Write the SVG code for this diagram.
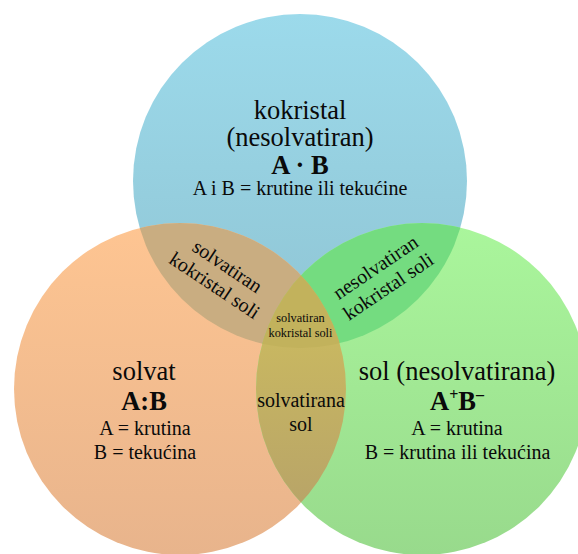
<svg xmlns="http://www.w3.org/2000/svg" width="578" height="554" viewBox="0 0 578 554">
<style>
.t{font-family:"Liberation Serif","Times New Roman",serif;fill:#0a0a0a;text-anchor:middle}
.big{font-size:26.5px}
.bold{font-size:26.5px;font-weight:bold}
.med{font-size:20px}
.sm{font-size:12.3px}
</style>
<defs>
<linearGradient id="gB" x1="0" y1="14" x2="0" y2="348" gradientUnits="userSpaceOnUse"><stop offset="0" stop-color="#9CDAEB"/><stop offset="1" stop-color="#8FC4D3"/></linearGradient>
<linearGradient id="gO" x1="0" y1="223" x2="0" y2="555" gradientUnits="userSpaceOnUse"><stop offset="0" stop-color="#FEC592"/><stop offset="1" stop-color="#E8B48C"/></linearGradient>
<linearGradient id="gG" x1="0" y1="223" x2="0" y2="555" gradientUnits="userSpaceOnUse"><stop offset="0" stop-color="#AAF69C"/><stop offset="1" stop-color="#98DA8C"/></linearGradient>
<linearGradient id="gOG" x1="0" y1="275" x2="0" y2="507" gradientUnits="userSpaceOnUse"><stop offset="0" stop-color="#CFBF5E"/><stop offset="1" stop-color="#B8A468"/></linearGradient>
<clipPath id="cB"><circle cx="300" cy="181" r="167"/></clipPath>
<clipPath id="cO"><circle cx="180" cy="389" r="166"/></clipPath>
</defs>
<g id="node-kokristal">
<circle cx="300" cy="181" r="167" fill="url(#gB)"/>
</g>
<g id="node-solvat">
<circle cx="180" cy="389" r="166" fill="url(#gO)"/>
</g>
<g id="node-sol">
<circle cx="422" cy="389" r="166" fill="url(#gG)"/>
</g>
<g id="node-solvatirani-kokristal-soli">
<circle cx="180" cy="389" r="166" fill="#C9AD81" clip-path="url(#cB)"/>
</g>
<g id="node-nesolvatirani-kokristal-soli">
<circle cx="422" cy="389" r="166" fill="#74DC80" clip-path="url(#cB)"/>
</g>
<g id="node-solvatirana-sol">
<circle cx="422" cy="389" r="166" fill="url(#gOG)" clip-path="url(#cO)"/>
</g>
<g id="node-centre">
<g clip-path="url(#cB)"><circle cx="422" cy="389" r="166" fill="#C2B25C" clip-path="url(#cO)"/></g>
</g>
<g id="labels">
<text class="t big" x="300" y="119">kokristal</text>
<text class="t big" x="300" y="146">(nesolvatiran)</text>
<text class="t bold" x="300" y="174">A · B</text>
<text class="t med" x="300" y="195">A i B = krutine ili tekućine</text>

<text class="t big" x="144" y="380">solvat</text>
<text class="t bold" x="144" y="410">A:B</text>
<text class="t med" x="145" y="435">A = krutina</text>
<text class="t med" x="145" y="459">B = tekućina</text>

<text class="t big" x="457" y="380">sol (nesolvatirana)</text>
<text class="t bold" x="457" y="410">A<tspan font-size="16" dy="-10">+</tspan><tspan dy="10">B</tspan><tspan font-size="16" dy="-10">–</tspan></text>
<text class="t med" x="457" y="435">A = krutina</text>
<text class="t med" x="457.5" y="459">B = krutina ili tekućina</text>

<text class="t med" x="301" y="407">solvatirana</text>
<text class="t med" x="301" y="431">sol</text>

<text class="t sm" x="300.5" y="322">solvatiran</text>
<text class="t sm" x="300.5" y="337">kokristal soli</text>

<g transform="translate(221 276) rotate(33.7)">
<text class="t med" x="0" y="-5">solvatiran</text>
<text class="t med" x="0" y="18">kokristal soli</text>
</g>
<g transform="translate(382 277) rotate(-34)">
<text class="t med" x="0" y="-5">nesolvatiran</text>
<text class="t med" x="0" y="18">kokristal soli</text>
</g>
</g>
</svg>
